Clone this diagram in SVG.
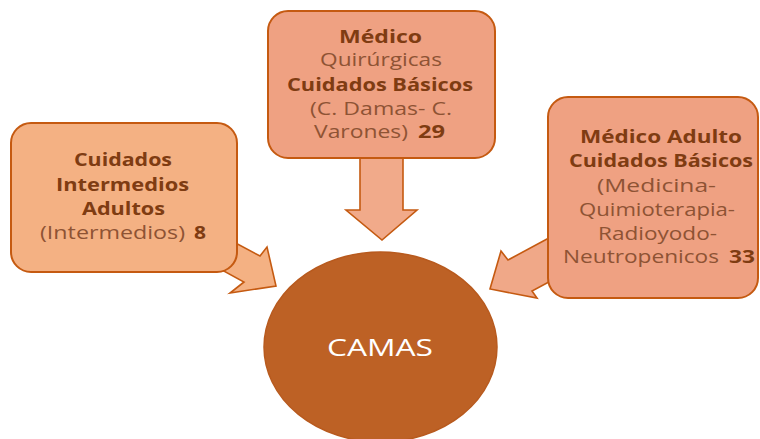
<svg xmlns="http://www.w3.org/2000/svg" width="760" height="439" viewBox="0 0 760 439">
<style>
text{font-family:"Open Sans","DejaVu Sans",sans-serif;font-size:18px}
.b{font-weight:bold;fill:#7F3C12}
.r{fill:#8E5334}
.box{stroke:#C55A11;stroke-width:2}
.arr{stroke:#C55A11;stroke-width:1.6;stroke-linejoin:miter}
</style>
<rect width="760" height="439" fill="#FFFFFF"/>
<g id="connectors">
<polygon class="arr" fill="#F4B183" points="215,232 260,256 267,247 276,286 230,293 244,282 200,258"/>
<polygon class="arr" fill="#F1AA8A" points="360,150 403,150 403,210 417,210 382,240 346,210 360,210"/>
<polygon class="arr" fill="#F0A888" points="560,232 508,260 501,251 490,289 537,298 532,291 560,276"/>
</g>
<g id="node-intermedios">
<rect class="box" x="11" y="123" width="226" height="149" rx="20" fill="#F4B183"/>
<text class="b" x="74" y="166" textLength="98" lengthAdjust="spacingAndGlyphs">Cuidados</text>
<text class="b" x="56" y="191" textLength="133" lengthAdjust="spacingAndGlyphs">Intermedios</text>
<text class="b" x="82" y="215" textLength="83" lengthAdjust="spacingAndGlyphs">Adultos</text>
<text x="40" y="239"><tspan class="r" x="40" textLength="145" lengthAdjust="spacingAndGlyphs">(Intermedios)</tspan><tspan class="b" x="194" textLength="12" lengthAdjust="spacingAndGlyphs">8</tspan></text>
</g>
<g id="node-quirurgicas">
<rect class="box" x="268" y="11" width="227" height="147" rx="20" fill="#EFA182"/>
<text class="b" x="339" y="43" textLength="83" lengthAdjust="spacingAndGlyphs">Médico</text>
<text class="r" x="320" y="66" textLength="122" lengthAdjust="spacingAndGlyphs">Quirúrgicas</text>
<text class="b" x="287" y="91" textLength="186" lengthAdjust="spacingAndGlyphs">Cuidados Básicos</text>
<text class="r" x="310" y="115" textLength="142" lengthAdjust="spacingAndGlyphs">(C. Damas- C.</text>
<text x="314" y="138"><tspan class="r" x="314" textLength="94" lengthAdjust="spacingAndGlyphs">Varones)</tspan><tspan class="b" x="418" textLength="27" lengthAdjust="spacingAndGlyphs">29</tspan></text>
</g>
<g id="node-adulto">
<rect class="box" x="548" y="97" width="210" height="201" rx="20" fill="#EFA182"/>
<text class="b" x="580" y="143" textLength="162" lengthAdjust="spacingAndGlyphs">Médico Adulto</text>
<text class="b" x="569" y="167" textLength="184" lengthAdjust="spacingAndGlyphs">Cuidados Básicos</text>
<text class="r" x="597" y="192" textLength="119" lengthAdjust="spacingAndGlyphs">(Medicina-</text>
<text class="r" x="579" y="216" textLength="156" lengthAdjust="spacingAndGlyphs">Quimioterapia-</text>
<text class="r" x="598" y="240" textLength="119" lengthAdjust="spacingAndGlyphs">Radioyodo-</text>
<text x="563" y="263"><tspan class="r" x="563" textLength="156" lengthAdjust="spacingAndGlyphs">Neutropenicos</tspan><tspan class="b" x="729" textLength="26" lengthAdjust="spacingAndGlyphs">33</tspan></text>
</g>
<g id="node-camas">
<ellipse cx="380.5" cy="347" rx="116.5" ry="95" fill="#BD6125" stroke="#B85A1E" stroke-width="1.5"/>
<text x="327" y="356" fill="#FFFFFF" style="font-size:24px" textLength="106" lengthAdjust="spacingAndGlyphs">CAMAS</text>
</g>
</svg>
